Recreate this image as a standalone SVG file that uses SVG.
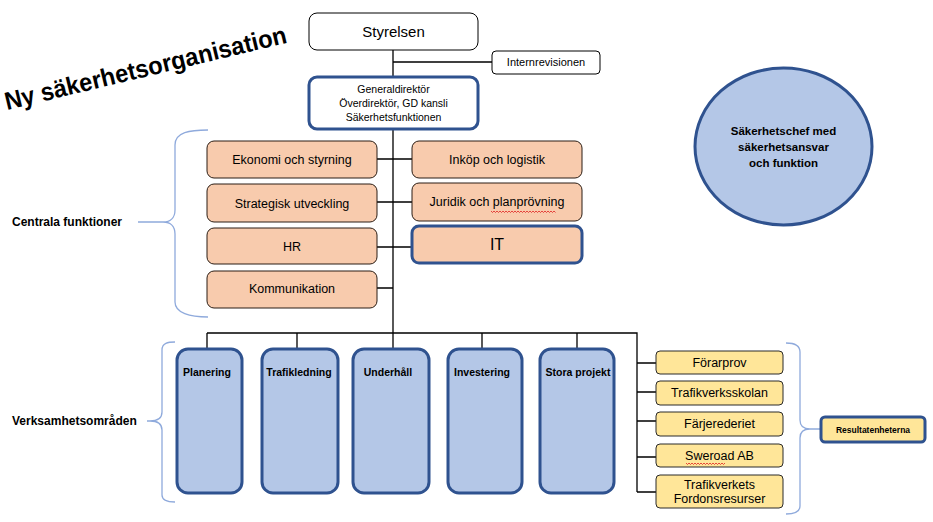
<svg xmlns="http://www.w3.org/2000/svg" width="933" height="522" viewBox="0 0 933 522">
<style>
text{font-family:"Liberation Sans",Arial,sans-serif;fill:#000}
.c{text-anchor:middle}
.b{font-weight:bold}
.thin{fill:#fff;stroke:#000;stroke-width:1}
.peach{fill:#F8CBAD;stroke:#2b1d14;stroke-width:1}
.blue{fill:#B4C7E7;stroke:#2F528F;stroke-width:3}
.yel{fill:#FFE699;stroke:#2b2b2b;stroke-width:1}
.hl{stroke:#2F528F;stroke-width:3}
.ln{fill:none;stroke:#000;stroke-width:1.3}
.br{fill:none;stroke:#8FAADC;stroke-width:1.3}
.sq{fill:none;stroke:#e02020;stroke-width:0.8}
</style>
<rect width="933" height="522" fill="#fff"/>
<text id="title" class="b" x="7" y="110" font-size="25" textLength="289" lengthAdjust="spacingAndGlyphs" transform="rotate(-13.5 7 110)">Ny säkerhetsorganisation</text>
<g id="connectors">
<path class="ln" d="M393 50V333M393 62H492M377 159H412M377 202H412M377 247H412M377 288H393M207 333H637V492M207 333V349M297 333V349M393 333V349M482 333V349M577 333V349M637 363H656M637 392H656M637 421H656M637 457H656M637 492H656"/>
<path class="br" d="M208 130C190 130 175 132 175 145V210C175 218 170 222 163 222C170 222 175 226 175 234V302C175 313 190 317 208 317M138 222H163"/>
<path class="br" d="M175 342C168 342 162 343 162 350V412C162 418 158 421 150 421C158 421 162 424 162 430V495C162 501 168 502 175 502M147 421H150"/>
<path class="br" d="M786 343C794 343 800 345 800 352V420C800 426 804 429 810 429C804 429 800 432 800 438V506C800 512 794 514 786 514M810 429H821"/>
</g>
<g id="styrelsen"><rect class="thin" x="309" y="13" width="169" height="37" rx="8"/><text class="c" x="393.5" y="37" font-size="15">Styrelsen</text></g>
<g id="internrevisionen"><rect class="thin" x="492" y="51" width="108" height="23" rx="4"/><text class="c" x="546" y="66" font-size="11">Internrevisionen</text></g>
<g id="gd"><rect class="thin hl" x="309" y="77" width="169" height="52" rx="8"/><text class="c" font-size="10.5"><tspan x="393.5" y="93">Generaldirektör</tspan><tspan x="393.5" y="107">Överdirektör, GD kansli</tspan><tspan x="393.5" y="121">Säkerhetsfunktionen</tspan></text></g>
<g id="ekonomi"><rect class="peach" x="207" y="141" width="170" height="37" rx="7"/><text class="c" x="292" y="164" font-size="12.5">Ekonomi och styrning</text></g>
<g id="strategisk"><rect class="peach" x="207" y="184" width="170" height="38" rx="7"/><text class="c" x="292" y="208" font-size="12.5">Strategisk utveckling</text></g>
<g id="hr"><rect class="peach" x="207" y="228" width="170" height="36" rx="7"/><text class="c" x="292" y="251" font-size="12.5">HR</text></g>
<g id="kommunikation"><rect class="peach" x="207" y="271" width="170" height="37" rx="7"/><text class="c" x="292" y="293" font-size="12.5">Kommunikation</text></g>
<g id="inkop"><rect class="peach" x="412" y="141" width="170" height="37" rx="7"/><text class="c" x="497" y="164" font-size="12.5">Inköp och logistik</text></g>
<g id="juridik"><rect class="peach" x="412" y="183" width="170" height="38" rx="7"/><text class="c" x="497" y="206" font-size="12.5">Juridik och planprövning</text><path class="sq" d="M491 211l1.5 1.5 1.5-1.5 1.5 1.5 1.5-1.5 1.5 1.5 1.5-1.5 1.5 1.5 1.5-1.5 1.5 1.5 1.5-1.5 1.5 1.5 1.5-1.5 1.5 1.5 1.5-1.5 1.5 1.5 1.5-1.5 1.5 1.5 1.5-1.5 1.5 1.5 1.5-1.5 1.5 1.5 1.5-1.5 1.5 1.5 1.5-1.5 1.5 1.5 1.5-1.5 1.5 1.5 1.5-1.5 1.5 1.5 1.5-1.5 1.5 1.5 1.5-1.5 1.5 1.5 1.5-1.5 1.5 1.5 1.5-1.5 1.5 1.5 1.5-1.5 1.5 1.5 1.5-1.5 1.5 1.5 1.5-1.5 1.5 1.5"/></g>
<g id="it"><rect class="peach hl" x="412" y="226" width="170" height="37" rx="7"/><text class="c" x="497" y="250" font-size="16">IT</text></g>
<g id="planering"><rect class="blue" x="177" y="349" width="65" height="144" rx="11"/><text class="c b" x="207" y="376" font-size="10.5">Planering</text></g>
<g id="trafikledning"><rect class="blue" x="262" y="349" width="76" height="144" rx="11"/><text class="c b" x="299" y="376" font-size="10.5">Trafikledning</text></g>
<g id="underhall"><rect class="blue" x="353" y="349" width="76" height="144" rx="11"/><text class="c b" x="388" y="376" font-size="10.5">Underhåll</text></g>
<g id="investering"><rect class="blue" x="448" y="349" width="74" height="144" rx="11"/><text class="c b" x="482" y="376" font-size="10.5">Investering</text></g>
<g id="storaprojekt"><rect class="blue" x="540" y="349" width="74" height="144" rx="11"/><text class="c b" x="578" y="376" font-size="10.5">Stora projekt</text></g>
<g id="forarprov"><rect class="yel" x="656" y="351" width="127" height="23" rx="4"/><text class="c" x="719.5" y="367" font-size="12.5">Förarprov</text></g>
<g id="trafikverksskolan"><rect class="yel" x="656" y="381" width="127" height="24" rx="4"/><text class="c" x="719.5" y="397" font-size="12.5">Trafikverksskolan</text></g>
<g id="farjerederiet"><rect class="yel" x="656" y="412" width="127" height="24" rx="4"/><text class="c" x="719.5" y="428" font-size="12.5">Färjerederiet</text></g>
<g id="sweroad"><rect class="yel" x="656" y="444" width="127" height="23" rx="4"/><text class="c" x="719.5" y="460" font-size="12.5">Sweroad AB</text><path class="sq" d="M686 463l1.5 1.5 1.5-1.5 1.5 1.5 1.5-1.5 1.5 1.5 1.5-1.5 1.5 1.5 1.5-1.5 1.5 1.5 1.5-1.5 1.5 1.5 1.5-1.5 1.5 1.5 1.5-1.5 1.5 1.5 1.5-1.5 1.5 1.5 1.5-1.5 1.5 1.5 1.5-1.5 1.5 1.5 1.5-1.5 1.5 1.5 1.5-1.5 1.5 1.5 1.5-1.5"/></g>
<g id="fordonsresurser"><rect class="yel" x="656" y="475" width="127" height="33" rx="4"/><text class="c" font-size="12.5"><tspan x="719.5" y="489">Trafikverkets</tspan><tspan x="719.5" y="503">Fordonsresurser</tspan></text></g>
<g id="resultatenheterna"><rect class="yel hl" x="821" y="417" width="104" height="25" rx="4"/><text class="c b" x="873" y="433" font-size="8.5">Resultatenheterna</text></g>
<g id="sakerhetschef"><ellipse class="blue" cx="783.5" cy="146.5" rx="88.5" ry="78.5"/><text class="c b" font-size="11.5"><tspan x="783.5" y="135">Säkerhetschef med</tspan><tspan x="783.5" y="151">säkerhetsansvar</tspan><tspan x="783.5" y="167">och funktion</tspan></text></g>
<g id="labels"><text class="b" x="12" y="226" font-size="12">Centrala funktioner</text><text class="b" x="12" y="425" font-size="12">Verksamhetsområden</text></g>
</svg>
